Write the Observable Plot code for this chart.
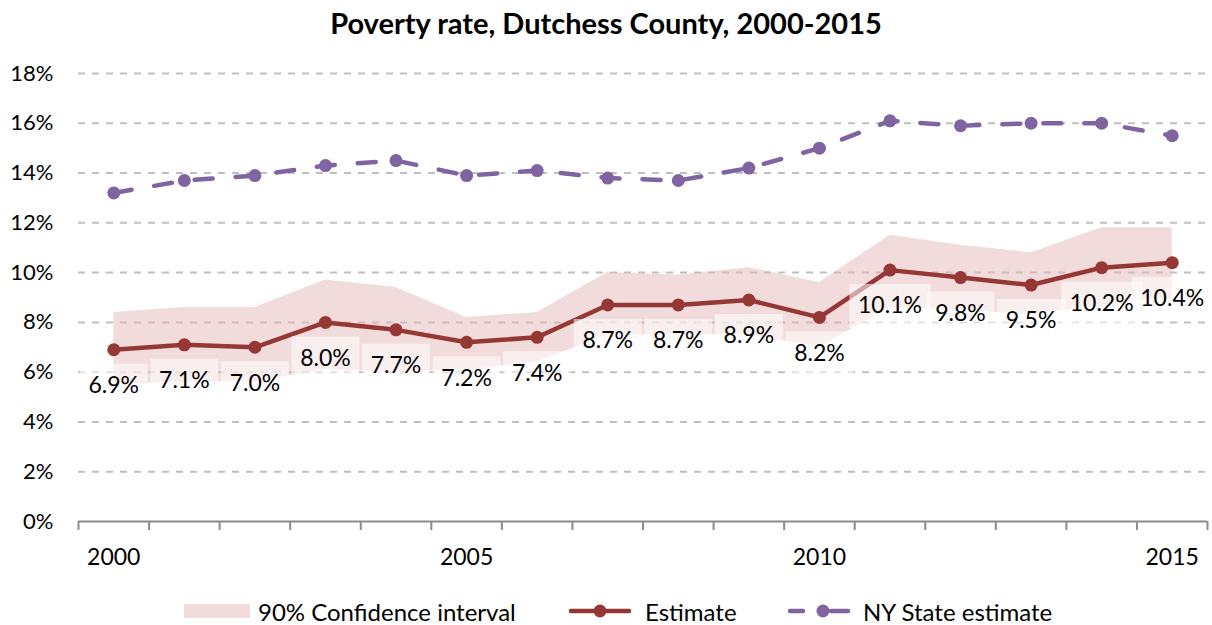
<!DOCTYPE html>
<html><head><meta charset="utf-8">
<script src="https://cdn.jsdelivr.net/npm/d3@7"></script>
<script src="https://cdn.jsdelivr.net/npm/@observablehq/plot@0.6"></script>
<style>
body{margin:0;background:#fff;font-family:Lato,"Open Sans",sans-serif;}
#wrap{position:relative;width:1212px;height:625px;overflow:hidden;background:#fff}
#title{position:absolute;left:0;top:0;width:1212px;height:45px;line-height:45px;text-align:center;font-weight:700;font-size:29px;color:#000}
#chart{position:absolute;left:0;top:45px}
.leg{position:absolute;top:598px;height:26px;display:flex;align-items:center;font-size:24px;color:#000;white-space:nowrap}
.leg svg{display:block}
</style></head><body>
<div id="wrap">
  <div id="title">Poverty rate, Dutchess County, 2000-2015</div>
  <div id="chart"></div>
  <div class="leg" id="leg1" style="left:184px"></div>
  <div class="leg" id="leg2" style="left:568px"></div>
  <div class="leg" id="leg3" style="left:787px"></div>
</div>
<script>
// ---- data ----
const years = [2000,2001,2002,2003,2004,2005,2006,2007,2008,2009,2010,2011,2012,2013,2014,2015];
const estimate = [6.9,7.1,7.0,8.0,7.7,7.2,7.4,8.7,8.7,8.9,8.2,10.1,9.8,9.5,10.2,10.4];
const nyState = [13.2,13.7,13.9,14.3,14.5,13.9,14.1,13.8,13.7,14.2,15.0,16.1,15.9,16.0,16.0,15.5];
const ciLower = [5.5,5.6,5.6,6.1,6.0,6.1,6.4,7.5,7.5,7.5,7.0,8.6,8.5,8.3,8.7,9.0];
const ciUpper = [8.4,8.6,8.6,9.7,9.4,8.2,8.4,10.0,9.9,10.2,9.6,11.5,11.1,10.8,11.8,11.8];
const yTicks = [0,2,4,6,8,10,12,14,16,18];
const xTickLabels = [2000,2005,2010,2015];
const seriesNames = ["90% Confidence interval","Estimate","NY State estimate"];

// ---- table ----
const rows = years.map((year,i)=>({year, est:estimate[i], ny:nyState[i], lo:ciLower[i], hi:ciUpper[i], label:estimate[i].toFixed(1)+"%"}));
const boundaries = d3.range(years[0]-0.5, years[years.length-1]+1, 1);

const boxSymbol = w => ({draw(ctx){ctx.rect(-w/2,-22,w,44);}});
const estColor = "#953735", nyColor = "#8064a2";

const chart = Plot.plot({
  width:1212, height:540, marginTop:28, marginBottom:64, marginLeft:78, marginRight:5,
  style:{fontFamily:"Lato, sans-serif", fontSize:"22px", color:"#000", background:"#fff"},
  x:{domain:[years[0]-0.5, years[years.length-1]+0.5], label:null},
  y:{domain:[0,18], label:null},
  marks:[
    Plot.gridY(yTicks.filter(d=>d>0), {stroke:"#bfbfbf", strokeOpacity:1, strokeWidth:2, strokeDasharray:"7,7"}),
    Plot.areaY(rows,{x:"year", y1:"lo", y2:"hi", fill:"#e6b9b8", fillOpacity:0.5}),
    Plot.ruleY([0], {stroke:"#8c8c8c", strokeWidth:2}),
    Plot.axisX(boundaries, {tickFormat:()=>"", tickSize:9, stroke:"#8c8c8c", strokeWidth:2, label:null}),
    Plot.axisX(xTickLabels, {tickSize:0, tickPadding:27, tickFormat:d=>String(d), fontSize:23, label:null}),
    Plot.axisY(yTicks, {tickSize:0, tickPadding:25, tickFormat:d=>d+"%", fontSize:22, label:null}),
    Plot.line(rows,{x:"year", y:"ny", stroke:nyColor, strokeWidth:4.5, strokeDasharray:"18,23", strokeLinecap:"round"}),
    Plot.dot(rows,{x:"year", y:"ny", r:6.5, fill:nyColor}),
    Plot.line(rows,{x:"year", y:"est", stroke:estColor, strokeWidth:4.5}),
    Plot.dot(rows,{x:"year", y:"est", r:6.5, fill:estColor}),
    Plot.dot(rows.filter(d=>d.label.length<5),{x:"year", y:"est", symbol:boxSymbol(68), dy:36, fill:"#fff", fillOpacity:0.55, stroke:null}),
    Plot.dot(rows.filter(d=>d.label.length>=5),{x:"year", y:"est", symbol:boxSymbol(81), dy:36, fill:"#fff", fillOpacity:0.55, stroke:null}),
    Plot.text(rows,{x:"year", y:"est", text:"label", dy:36, fontSize:23, fill:"#000"})
  ]
});
document.getElementById("chart").appendChild(chart);

// ---- legend ----
document.getElementById("leg1").innerHTML =
  `<svg width="66" height="14"><rect x="0" y="0" width="66" height="14" fill="#f2dcdb"/></svg><span style="margin-left:8px">${seriesNames[0]}</span>`;
document.getElementById("leg2").innerHTML =
  `<svg width="64" height="20"><line x1="3" x2="61" y1="10" y2="10" stroke="${estColor}" stroke-width="4.5" stroke-linecap="round"/><circle cx="32" cy="10" r="6.5" fill="${estColor}"/></svg><span style="margin-left:13px">${seriesNames[1]}</span>`;
document.getElementById("leg3").innerHTML =
  `<svg width="64" height="20"><line x1="3" x2="16" y1="10" y2="10" stroke="${nyColor}" stroke-width="4.5" stroke-linecap="round"/><line x1="44" x2="61" y1="10" y2="10" stroke="${nyColor}" stroke-width="4.5" stroke-linecap="round"/><line x1="30" x2="40" y1="10" y2="10" stroke="${nyColor}" stroke-width="4.5"/><circle cx="36" cy="10" r="6.5" fill="${nyColor}"/></svg><span style="margin-left:12px">${seriesNames[2]}</span>`;
</script>
</body></html>
